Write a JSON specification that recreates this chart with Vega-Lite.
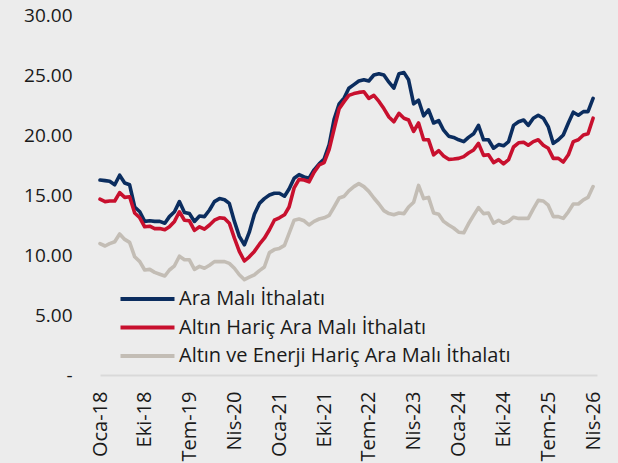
{
  "$schema": "https://vega.github.io/schema/vega-lite/v6.json",
  "width": 497,
  "height": 360,
  "autosize": {"type": "none"},
  "padding": {"left": 100, "top": 15, "right": 21, "bottom": 88},
  "background": "#ececec",
  "config": {
    "view": {"stroke": null},
    "font": "Open Sans",
    "axis": {"labelFont": "Open Sans", "labelFontSize": 19, "labelColor": "#1a1a1a", "grid": false, "ticks": false}
  },
  "data": {
    "values": [
      {"d":"2018-01-01","ara":16.25,"altin":14.65,"enerji":10.95},
      {"d":"2018-02-01","ara":16.2,"altin":14.45,"enerji":10.75},
      {"d":"2018-03-01","ara":16.15,"altin":14.5,"enerji":10.95},
      {"d":"2018-04-01","ara":15.85,"altin":14.5,"enerji":11.1},
      {"d":"2018-05-01","ara":16.65,"altin":15.2,"enerji":11.75},
      {"d":"2018-06-01","ara":16.0,"altin":14.8,"enerji":11.3},
      {"d":"2018-07-01","ara":15.85,"altin":14.85,"enerji":11.05},
      {"d":"2018-08-01","ara":14.0,"altin":13.5,"enerji":9.85},
      {"d":"2018-09-01","ara":13.6,"altin":13.1,"enerji":9.45},
      {"d":"2018-10-01","ara":12.8,"altin":12.35,"enerji":8.75},
      {"d":"2018-11-01","ara":12.85,"altin":12.4,"enerji":8.8},
      {"d":"2018-12-01","ara":12.8,"altin":12.2,"enerji":8.55},
      {"d":"2019-01-01","ara":12.8,"altin":12.2,"enerji":8.4},
      {"d":"2019-02-01","ara":12.65,"altin":12.1,"enerji":8.25},
      {"d":"2019-03-01","ara":13.2,"altin":12.35,"enerji":8.75},
      {"d":"2019-04-01","ara":13.6,"altin":12.8,"enerji":9.1},
      {"d":"2019-05-01","ara":14.45,"altin":13.6,"enerji":9.9},
      {"d":"2019-06-01","ara":13.55,"altin":12.9,"enerji":9.6},
      {"d":"2019-07-01","ara":13.45,"altin":12.85,"enerji":9.6},
      {"d":"2019-08-01","ara":12.8,"altin":12.05,"enerji":8.8},
      {"d":"2019-09-01","ara":13.25,"altin":12.35,"enerji":9.05},
      {"d":"2019-10-01","ara":13.2,"altin":12.15,"enerji":8.9},
      {"d":"2019-11-01","ara":13.75,"altin":12.5,"enerji":9.15},
      {"d":"2019-12-01","ara":14.45,"altin":12.9,"enerji":9.45},
      {"d":"2020-01-01","ara":14.7,"altin":13.1,"enerji":9.45},
      {"d":"2020-02-01","ara":14.6,"altin":13.05,"enerji":9.45},
      {"d":"2020-03-01","ara":14.3,"altin":12.65,"enerji":9.3},
      {"d":"2020-04-01","ara":12.8,"altin":11.4,"enerji":8.9},
      {"d":"2020-05-01","ara":11.55,"altin":10.3,"enerji":8.35},
      {"d":"2020-06-01","ara":10.85,"altin":9.5,"enerji":7.95},
      {"d":"2020-07-01","ara":11.9,"altin":9.85,"enerji":8.15},
      {"d":"2020-08-01","ara":13.4,"altin":10.3,"enerji":8.35},
      {"d":"2020-09-01","ara":14.3,"altin":10.9,"enerji":8.7},
      {"d":"2020-10-01","ara":14.7,"altin":11.4,"enerji":9.0},
      {"d":"2020-11-01","ara":15.0,"altin":12.1,"enerji":10.2},
      {"d":"2020-12-01","ara":15.15,"altin":12.9,"enerji":10.45},
      {"d":"2021-01-01","ara":15.15,"altin":13.1,"enerji":10.55},
      {"d":"2021-02-01","ara":14.9,"altin":13.35,"enerji":10.8},
      {"d":"2021-03-01","ara":15.5,"altin":14.0,"enerji":11.8},
      {"d":"2021-04-01","ara":16.4,"altin":15.6,"enerji":12.9},
      {"d":"2021-05-01","ara":16.7,"altin":16.3,"enerji":13.0},
      {"d":"2021-06-01","ara":16.5,"altin":16.25,"enerji":12.85},
      {"d":"2021-07-01","ara":16.4,"altin":16.1,"enerji":12.5},
      {"d":"2021-08-01","ara":17.1,"altin":16.9,"enerji":12.8},
      {"d":"2021-09-01","ara":17.6,"altin":17.5,"enerji":13.0},
      {"d":"2021-10-01","ara":18.0,"altin":17.7,"enerji":13.1},
      {"d":"2021-11-01","ara":19.2,"altin":18.8,"enerji":13.3},
      {"d":"2021-12-01","ara":21.3,"altin":20.5,"enerji":14.0},
      {"d":"2022-01-01","ara":22.6,"altin":22.2,"enerji":14.75},
      {"d":"2022-02-01","ara":23.1,"altin":22.8,"enerji":14.9},
      {"d":"2022-03-01","ara":23.9,"altin":23.3,"enerji":15.35},
      {"d":"2022-04-01","ara":24.2,"altin":23.45,"enerji":15.7},
      {"d":"2022-05-01","ara":24.5,"altin":23.55,"enerji":15.95},
      {"d":"2022-06-01","ara":24.6,"altin":23.6,"enerji":15.7},
      {"d":"2022-07-01","ara":24.5,"altin":23.05,"enerji":15.3},
      {"d":"2022-08-01","ara":25.0,"altin":23.3,"enerji":14.75},
      {"d":"2022-09-01","ara":25.1,"altin":22.8,"enerji":14.25},
      {"d":"2022-10-01","ara":25.0,"altin":22.2,"enerji":13.7},
      {"d":"2022-11-01","ara":24.4,"altin":21.5,"enerji":13.45},
      {"d":"2022-12-01","ara":23.9,"altin":21.1,"enerji":13.35},
      {"d":"2023-01-01","ara":25.1,"altin":21.8,"enerji":13.5},
      {"d":"2023-02-01","ara":25.2,"altin":21.4,"enerji":13.45},
      {"d":"2023-03-01","ara":24.6,"altin":21.25,"enerji":14.0},
      {"d":"2023-04-01","ara":22.6,"altin":20.3,"enerji":14.4},
      {"d":"2023-05-01","ara":22.9,"altin":21.0,"enerji":15.8},
      {"d":"2023-06-01","ara":21.6,"altin":19.6,"enerji":14.7},
      {"d":"2023-07-01","ara":22.1,"altin":19.6,"enerji":14.8},
      {"d":"2023-08-01","ara":21.0,"altin":18.35,"enerji":13.5},
      {"d":"2023-09-01","ara":21.2,"altin":18.7,"enerji":13.4},
      {"d":"2023-10-01","ara":20.4,"altin":18.25,"enerji":12.8},
      {"d":"2023-11-01","ara":19.9,"altin":17.97,"enerji":12.5},
      {"d":"2023-12-01","ara":19.8,"altin":18.0,"enerji":12.25},
      {"d":"2024-01-01","ara":19.6,"altin":18.05,"enerji":11.9},
      {"d":"2024-02-01","ara":19.45,"altin":18.2,"enerji":11.85},
      {"d":"2024-03-01","ara":19.8,"altin":18.5,"enerji":12.6},
      {"d":"2024-04-01","ara":20.1,"altin":18.75,"enerji":13.3},
      {"d":"2024-05-01","ara":20.8,"altin":19.3,"enerji":13.95},
      {"d":"2024-06-01","ara":19.6,"altin":18.3,"enerji":13.45},
      {"d":"2024-07-01","ara":19.6,"altin":18.35,"enerji":13.5},
      {"d":"2024-08-01","ara":18.9,"altin":17.7,"enerji":12.65},
      {"d":"2024-09-01","ara":19.2,"altin":17.95,"enerji":12.9},
      {"d":"2024-10-01","ara":19.1,"altin":17.6,"enerji":12.65},
      {"d":"2024-11-01","ara":19.45,"altin":17.95,"enerji":12.8},
      {"d":"2024-12-01","ara":20.8,"altin":19.0,"enerji":13.15},
      {"d":"2025-01-01","ara":21.1,"altin":19.35,"enerji":13.05},
      {"d":"2025-02-01","ara":21.25,"altin":19.4,"enerji":13.05},
      {"d":"2025-03-01","ara":20.8,"altin":19.15,"enerji":13.05},
      {"d":"2025-04-01","ara":21.4,"altin":19.45,"enerji":13.85},
      {"d":"2025-05-01","ara":21.65,"altin":19.6,"enerji":14.55},
      {"d":"2025-06-01","ara":21.4,"altin":19.15,"enerji":14.5},
      {"d":"2025-07-01","ara":20.7,"altin":18.9,"enerji":14.15},
      {"d":"2025-08-01","ara":19.3,"altin":18.05,"enerji":13.2},
      {"d":"2025-09-01","ara":19.6,"altin":18.05,"enerji":13.2},
      {"d":"2025-10-01","ara":20.0,"altin":17.75,"enerji":13.05},
      {"d":"2025-11-01","ara":21.0,"altin":18.35,"enerji":13.6},
      {"d":"2025-12-01","ara":21.9,"altin":19.45,"enerji":14.25},
      {"d":"2026-01-01","ara":21.65,"altin":19.6,"enerji":14.25},
      {"d":"2026-02-01","ara":21.95,"altin":20.0,"enerji":14.6},
      {"d":"2026-03-01","ara":21.95,"altin":20.1,"enerji":14.8},
      {"d":"2026-04-01","ara":23.05,"altin":21.4,"enerji":15.7}
    ]
  },
  "transform": [
    {"fold": ["ara", "altin", "enerji"], "as": ["seri", "deger"]}
  ],
  "mark": {"type": "line", "strokeWidth": 3.6, "strokeJoin": "round", "strokeCap": "round"},
  "encoding": {
    "x": {
      "field": "d",
      "type": "temporal",
      "scale": {
        "type": "utc",
        "domain": [
          {"year": 2018, "month": 1, "date": 1, "utc": true},
          {"year": 2026, "month": 4, "date": 25, "utc": true}
        ]
      },
      "axis": {
        "title": null,
        "values": [
          {"year": 2018, "month": 1, "date": 1, "utc": true},
          {"year": 2018, "month": 10, "date": 1, "utc": true},
          {"year": 2019, "month": 7, "date": 1, "utc": true},
          {"year": 2020, "month": 4, "date": 1, "utc": true},
          {"year": 2021, "month": 1, "date": 1, "utc": true},
          {"year": 2021, "month": 10, "date": 1, "utc": true},
          {"year": 2022, "month": 7, "date": 1, "utc": true},
          {"year": 2023, "month": 4, "date": 1, "utc": true},
          {"year": 2024, "month": 1, "date": 1, "utc": true},
          {"year": 2024, "month": 10, "date": 1, "utc": true},
          {"year": 2025, "month": 7, "date": 1, "utc": true},
          {"year": 2026, "month": 4, "date": 1, "utc": true}
        ],
        "labelExpr": "['Oca','Şub','Mar','Nis','May','Haz','Tem','Ağu','Eyl','Eki','Kas','Ara'][utcmonth(datum.value)] + '-' + utcFormat(datum.value, '%y')",
        "labelAngle": -90,
        "labelFontSize": 20,
        "labelPadding": 16,
        "labelFlush": false,
        "labelOverlap": false,
        "domain": true,
        "domainColor": "#d9d9d9",
        "domainWidth": 2
      }
    },
    "y": {
      "field": "deger",
      "type": "quantitative",
      "scale": {"domain": [0, 30], "nice": false, "zero": true},
      "axis": {
        "title": null,
        "values": [0, 5, 10, 15, 20, 25, 30],
        "labelExpr": "datum.value == 0 ? '-\u00a0\u00a0' : format(datum.value, '.2f')",
        "labelPadding": 28,
        "domain": false
      }
    },
    "color": {
      "field": "seri",
      "type": "nominal",
      "scale": {"domain": ["ara", "altin", "enerji"], "range": ["#0b2d5f", "#c8102e", "#c3bdb5"]},
      "legend": {
        "title": null,
        "orient": "none",
        "legendX": 37.5,
        "legendY": 274,
        "padding": 0,
        "symbolType": "M-5.4,0H5.4",
        "symbolSize": 100,
        "symbolStrokeWidth": 4,
        "symbolOffset": 0,
        "labelOffset": 21.5,
        "rowPadding": 8.5,
        "labelFont": "Open Sans",
        "labelFontSize": 20,
        "labelColor": "#1a1a1a",
        "labelLimit": 0,
        "labelExpr": "datum.value == 'ara' ? 'Ara Malı İthalatı' : datum.value == 'altin' ? 'Altın Hariç Ara Malı İthalatı' : 'Altın ve Enerji Hariç Ara Malı İthalatı'"
      }
    }
  }
}
